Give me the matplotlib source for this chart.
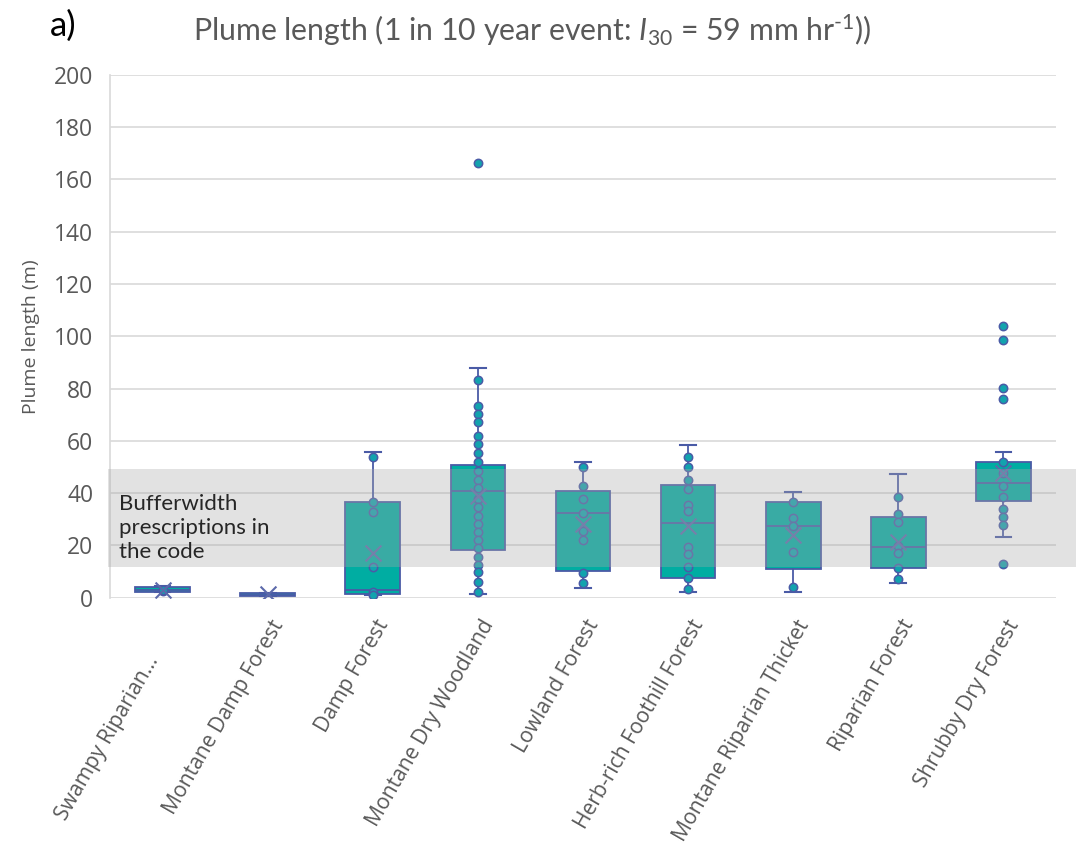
import matplotlib
matplotlib.use("Agg")
import matplotlib.pyplot as plt
import matplotlib.transforms as mtransforms
from matplotlib.patches import Rectangle

# ---------------- data ----------------
categories = ["Swampy Riparian...", "Montane Damp Forest", "Damp Forest",
              "Montane Dry Woodland", "Lowland Forest", "Herb-rich Foothill Forest",
              "Montane Riparian Thicket", "Riparian Forest", "Shrubby Dry Forest"]

whisker_low = [2.0, 0.6, 0.8, 1.3, 3.8, 2.2, 2.2, 5.7, 23.3]
quartile1   = [2.2, 0.7, 1.3, 18.2, 10.3, 7.6, 10.8, 11.4, 37.0]
medians     = [3.0, 1.0, 2.9, 40.6, 32.2, 28.4, 27.5, 19.4, 43.8]
quartile3   = [4.1, 1.6, 36.6, 50.7, 40.9, 43.2, 36.6, 30.9, 51.9]
whisker_high = [4.3, 1.7, 55.8, 87.9, 51.9, 58.4, 40.5, 47.1, 55.8]
means       = [2.7, 1.2, 17.1, 38.9, 28.1, 27.3, 23.9, 21.3, 47.5]

points_swampy = [2.4, 2.8]
points_montane_damp = []
points_damp = [53.9, 36.4, 32.6, 11.8, 2.0, 1.0]
points_montane_dry = [166.3, 83.3, 73.2, 70.2, 67.3, 61.9, 58.6, 55.4, 51.9, 48.4,
                      45.1, 41.8, 37.9, 34.8, 31.3, 28.2, 25.0, 21.9, 18.8, 15.6,
                      12.6, 9.6, 5.9, 2.2]
points_lowland = [49.8, 42.6, 37.8, 32.2, 25.6, 22.0, 9.5, 5.7]
points_herb = [53.6, 50.0, 44.9, 41.5, 35.5, 33.0, 19.5, 16.8, 11.8, 7.6, 3.3]
points_mrt = [36.4, 30.3, 27.5, 17.3, 4.1]
points_riparian = [38.5, 31.8, 29.0, 19.7, 16.9, 11.2, 7.0]
points_shrubby = [103.8, 98.5, 80.2, 75.9, 51.7, 47.5, 42.8, 38.5, 33.7, 30.9, 27.7, 12.7]

all_points = [points_swampy, points_montane_damp, points_damp, points_montane_dry,
              points_lowland, points_herb, points_mrt, points_riparian, points_shrubby]

buffer_low, buffer_high = 11.5, 49.0
y_ticks = list(range(0, 201, 20))

# ---------------- styling ----------------
TEAL = "#00ADA2"
EDGE = "#4A5BA6"
MEANC = "#5C69AA"
PTFACE = "#12A3AE"
GRID = "#D9D9D9"
TXT = "#595959"

plt.rcParams["mathtext.fontset"] = "custom"
plt.rcParams["mathtext.rm"] = "Lato"
plt.rcParams["mathtext.it"] = "Lato:italic"

fig = plt.figure(figsize=(10.76, 8.49), dpi=100)
ax = fig.add_axes([0.1022, 0.2962, 0.8792, 0.6155])

positions = list(range(len(categories)))
stats = []
for i, name in enumerate(categories):
    stats.append(dict(label=name, whislo=whisker_low[i], q1=quartile1[i], med=medians[i],
                      q3=quartile3[i], whishi=whisker_high[i], mean=means[i], fliers=[]))

ax.bxp(stats, positions=positions, widths=0.52, patch_artist=True, showmeans=False,
       showfliers=False, capwidths=0.15,
       boxprops=dict(facecolor=TEAL, edgecolor=EDGE, linewidth=1.3),
       medianprops=dict(color=EDGE, linewidth=1.3),
       whiskerprops=dict(color=EDGE, linewidth=1.3),
       capprops=dict(color=EDGE, linewidth=1.5), manage_ticks=False, zorder=3)

for i, pts in enumerate(all_points):
    if pts:
        ax.scatter([positions[i]] * len(pts), pts, s=36, facecolor=PTFACE,
                   edgecolor=EDGE, linewidth=1.1, zorder=4)
ax.scatter(positions, means, marker="x", s=130, color=MEANC, linewidth=1.5, zorder=5)

ax.set_xlim(-0.5, len(categories) - 0.5)
ax.set_ylim(0, 200)
ax.set_yticks(y_ticks)
ax.set_yticklabels([str(t) for t in y_ticks], fontfamily="Open Sans", fontsize=16.5, color=TXT)
ax.yaxis.grid(True, color=GRID, linewidth=1.2)
ax.set_axisbelow(True)
ax.tick_params(axis="y", length=0, pad=12)
ax.tick_params(axis="x", length=0, pad=12)
ax.set_xticks(positions)
ax.set_xticklabels(categories, rotation=60, ha="right", va="top", rotation_mode="anchor",
                   fontfamily="Open Sans", fontsize=15.2, color=TXT)
shift = mtransforms.ScaledTranslation(0.02, -0.02, fig.dpi_scale_trans)
shift_first = mtransforms.ScaledTranslation(-0.18, -0.38, fig.dpi_scale_trans)
for k, lab in enumerate(ax.get_xticklabels()):
    lab.set_transform(lab.get_transform() + (shift_first if k == 0 else shift))
for s in ["top", "right", "bottom"]:
    ax.spines[s].set_visible(False)
ax.spines["left"].set_color(GRID)
ax.spines["left"].set_linewidth(1.2)

ax.set_ylabel("Plume length (m)", fontfamily="Open Sans", fontsize=14, color=TXT, labelpad=10)

# gray overlay band
trans = mtransforms.blended_transform_factory(fig.transFigure, ax.transData)
band = Rectangle((0.1005, buffer_low), 1.0 - 0.1005, buffer_high - buffer_low,
                 transform=trans, facecolor=(170/255, 170/255, 170/255), alpha=0.34,
                 edgecolor="none", zorder=10, clip_on=False)
ax.add_patch(band)

fig.text(0.111, (849 - 528) / 849, "Bufferwidth\nprescriptions in\nthe code",
         fontfamily="Lato", fontsize=16, color="#262626", va="center", ha="left",
         linespacing=1.28, zorder=11)

fig.text(0.0465, (849 - 26) / 849, "a)", fontfamily="Lato", fontsize=25, color="#000000",
         va="center", ha="left")
fig.text(0.179, (849 - 30) / 849,
         r"Plume length (1 in 10 year event: $\mathit{I_{30}}$ = 59 mm hr$^{\text{-1}}$))",
         fontfamily="Lato", fontsize=21.8, color=TXT, va="center", ha="left")

fig.savefig("out.png", dpi=100)
